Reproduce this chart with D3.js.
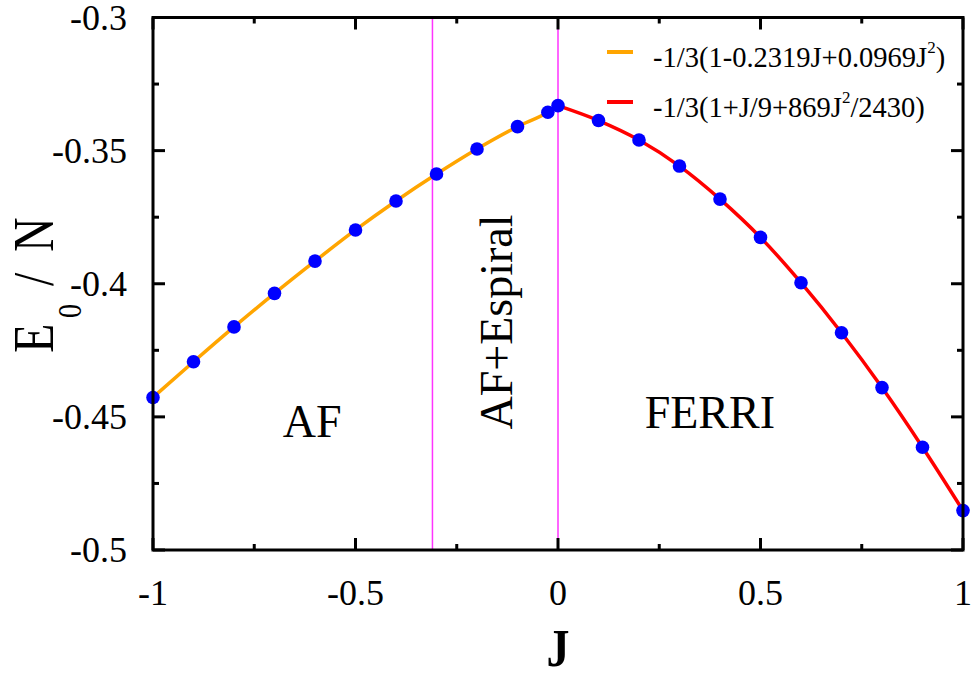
<!DOCTYPE html>
<html>
<head>
<meta charset="utf-8">
<script src="https://cdn.jsdelivr.net/npm/d3@7/dist/d3.min.js"></script>
<style>
  html, body { margin: 0; padding: 0; background: #fff; }
  svg { display: block; }
</style>
</head>
<body>
<svg id="chart" width="971" height="677"></svg>
<script>
// ---- data ----
const jValues = [-1, -0.9, -0.8, -0.7, -0.6, -0.5, -0.4, -0.3, -0.2, -0.1, -0.025, 0,
                 0.1, 0.2, 0.3, 0.4, 0.5, 0.6, 0.7, 0.8, 0.9, 1];
const energyValues = [-0.4427, -0.4293, -0.4162, -0.4036, -0.3915, -0.3798, -0.3689, -0.3588,
                      -0.3494, -0.3410, -0.3356, -0.3331,
                      -0.3387, -0.3460, -0.3558, -0.3682, -0.3826, -0.3996, -0.4184, -0.4390, -0.4614, -0.4852];
const xTicks = [-1, -0.5, 0, 0.5, 1];
const xTickLabels = ["-1", "-0.5", "0", "0.5", "1"];
const xMinorTicks = [-0.75, -0.25, 0.25, 0.75];
const yTicks = [-0.3, -0.35, -0.4, -0.45, -0.5];
const yTickLabels = ["-0.3", "-0.35", "-0.4", "-0.45", "-0.5"];
const yMinorTicks = [-0.325, -0.375, -0.425, -0.475];
const phaseBoundaries = [-0.31, 0];
const regionNames = ["AF", "AF+Espiral", "FERRI"];
const legendMain = ["-1/3(1-0.2319J+0.0969J", "-1/3(1+J/9+869J"];
const legendSup = ["2", "2"];
const legendTail = [")", "/2430)"];
const seriesColors = ["#FFA500", "#FF0000"];

// ---- layout ----
const FONT = "'Liberation Serif', Tinos, 'Times New Roman', Times, 'DejaVu Serif', 'Noto Serif', serif";
const svg = d3.select("#chart").attr("font-family", FONT);
const L = 153, R = 963, T = 17.5, B = 550;
const x = d3.scaleLinear().domain([-1, 1]).range([L, R]);
const y = d3.scaleLinear().domain([-0.5, -0.3]).range([B, T]);

const pts = jValues.map((j, i) => ({ j, e: energyValues[i] }));
const leftSeries = pts.filter(p => p.j <= 0);
const rightSeries = pts.filter(p => p.j >= 0);

// phase boundaries
svg.selectAll("line.bound").data(phaseBoundaries).enter().append("line")
  .attr("x1", d => x(d)).attr("x2", d => x(d))
  .attr("y1", T).attr("y2", B)
  .attr("stroke", "#FF33FF").attr("stroke-width", 1.5);

// curves
const line = d3.line().x(d => x(d.j)).y(d => y(d.e)).curve(d3.curveMonotoneX);
svg.append("path").datum(leftSeries).attr("d", line)
  .attr("fill", "none").attr("stroke", seriesColors[0]).attr("stroke-width", 3.5);
svg.append("path").datum(rightSeries).attr("d", line)
  .attr("fill", "none").attr("stroke", seriesColors[1]).attr("stroke-width", 3.5);

// points
svg.selectAll("circle.pt").data(pts).enter().append("circle")
  .attr("cx", d => x(d.j)).attr("cy", d => y(d.e)).attr("r", 6.8)
  .attr("fill", "#0000FF");

// frame
svg.append("rect").attr("x", L).attr("y", T).attr("width", R - L).attr("height", B - T)
  .attr("fill", "none").attr("stroke", "#000").attr("stroke-width", 3);

// ticks (inward, mirrored)
const majorLen = 12, minorLen = 6;
function xTickMarks(vals, len) {
  vals.forEach(v => {
    svg.append("line").attr("x1", x(v)).attr("x2", x(v)).attr("y1", B).attr("y2", B - len)
      .attr("stroke", "#000").attr("stroke-width", 3);
    svg.append("line").attr("x1", x(v)).attr("x2", x(v)).attr("y1", T).attr("y2", T + len)
      .attr("stroke", "#000").attr("stroke-width", 3);
  });
}
function yTickMarks(vals, len) {
  vals.forEach(v => {
    svg.append("line").attr("y1", y(v)).attr("y2", y(v)).attr("x1", L).attr("x2", L + len)
      .attr("stroke", "#000").attr("stroke-width", 3);
    svg.append("line").attr("y1", y(v)).attr("y2", y(v)).attr("x1", R).attr("x2", R - len)
      .attr("stroke", "#000").attr("stroke-width", 3);
  });
}
xTickMarks(xTicks, majorLen); xTickMarks(xMinorTicks, minorLen);
yTickMarks(yTicks, majorLen); yTickMarks(yMinorTicks, minorLen);

// tick labels
svg.selectAll("text.xt").data(xTicks).enter().append("text")
  .attr("x", d => x(d)).attr("y", 605).attr("text-anchor", "middle")
  .attr("font-size", 36).text((d, i) => xTickLabels[i]);
svg.selectAll("text.yt").data(yTicks).enter().append("text")
  .attr("x", 127).attr("y", d => y(d) + 12).attr("text-anchor", "end")
  .attr("font-size", 36).text((d, i) => yTickLabels[i]);

// axis titles
svg.append("g").attr("transform", "translate(558,666) scale(1,1.15)")
  .append("text").attr("text-anchor", "middle").attr("font-size", 46).attr("font-weight", "bold").text("J");

// y title: E_0 / N (rotated, vertically stretched glyphs)
const ylParts = [
  { t: "E", px: 53, py: 353, fs: 48 },
  { t: "0", px: 81, py: 318, fs: 28 },
  { t: "/", px: 53, py: 286, fs: 48 },
  { t: "N", px: 53, py: 252, fs: 48 }
];
ylParts.forEach(p => {
  svg.append("g").attr("transform", `translate(${p.px},${p.py}) rotate(-90) scale(1,1.2)`)
    .append("text").attr("x", 0).attr("y", 0).attr("font-size", p.fs).text(p.t);
});

// region labels
svg.append("text").attr("x", x(-0.607)).attr("y", 437).attr("text-anchor", "middle")
  .attr("font-size", 46).text(regionNames[0]);
svg.append("text").attr("transform", `translate(512,322) rotate(-90)`).attr("text-anchor", "middle")
  .attr("font-size", 46).text(regionNames[1]);
svg.append("text").attr("x", x(0.375)).attr("y", 428).attr("text-anchor", "middle")
  .attr("font-size", 46).text(regionNames[2]);

// legend
const legY = [67, 117];
legendMain.forEach((m, i) => {
  svg.append("line").attr("x1", 607).attr("x2", 633)
    .attr("y1", legY[i] - 15).attr("y2", legY[i] - 15)
    .attr("stroke", seriesColors[i]).attr("stroke-width", 4);
  const t = svg.append("text").attr("x", 653).attr("y", legY[i]).attr("font-size", 28.5);
  t.append("tspan").text(m);
  t.append("tspan").attr("font-size", 17).attr("dy", -14).text(legendSup[i]);
  t.append("tspan").attr("dy", 14).text(legendTail[i]);
});
</script>
</body>
</html>
